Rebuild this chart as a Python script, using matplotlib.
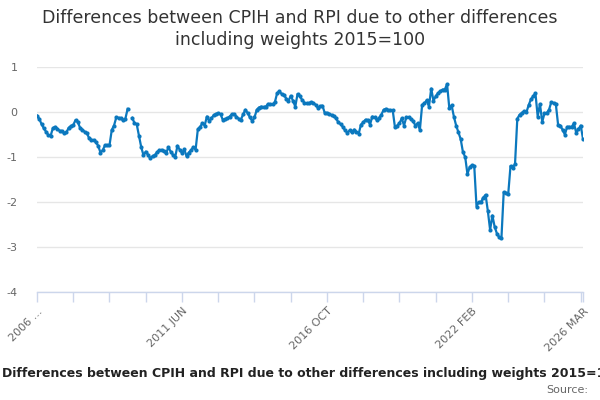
import numpy as np
import matplotlib
matplotlib.use("Agg")
import matplotlib.pyplot as plt

plt.rcParams['axes.unicode_minus'] = False
plt.rcParams['font.family'] = ['DejaVu Sans']

MONTHS = ["JAN", "FEB", "MAR", "APR", "MAY", "JUN",
          "JUL", "AUG", "SEP", "OCT", "NOV", "DEC"]
all_months = [f"{y} {m}" for y in range(2006, 2027) for m in MONTHS]
categories = all_months[all_months.index("2006 FEB"):all_months.index("2026 MAR") + 1]

nan = np.nan
values = [
    -0.08, -0.15, -0.27, -0.36, -0.44, -0.51, -0.53, -0.36, -0.33, -0.37,
    -0.42, -0.42, -0.47, -0.45, -0.35, -0.31, -0.29, -0.18, -0.22, -0.35,
    -0.39, -0.44, -0.47, -0.58, -0.62, -0.62, -0.67, -0.75, -0.90, -0.85,
    -0.74, -0.74, -0.74, -0.40, -0.30, -0.12, -0.13, -0.14, -0.18, -0.15,
    0.07, nan, -0.13, -0.24, -0.27, -0.53, -0.78, -0.96, -0.88, -0.95,
    -1.03, -0.98, -0.96, -0.89, -0.85, -0.84, -0.87, -0.92, -0.78, -0.88,
    -0.95, -1.00, -0.75, -0.84, -0.91, -0.83, -0.98, -0.90, -0.85, -0.78,
    -0.84, -0.38, -0.33, -0.25, -0.30, -0.10, -0.20, -0.14, -0.07, -0.04,
    -0.03, -0.05, -0.17, -0.16, -0.14, -0.10, -0.05, -0.05, -0.10, -0.15,
    -0.17, -0.05, 0.05, -0.03, -0.12, -0.20, -0.12, 0.05, 0.10, 0.12,
    0.11, 0.12, 0.18, 0.17, 0.17, 0.22, 0.42, 0.46, 0.40, 0.38,
    0.30, 0.25, 0.36, 0.25, 0.12, 0.40, 0.35, 0.27, 0.21, 0.19,
    0.19, 0.22, 0.20, 0.16, 0.09, 0.13, 0.14, -0.02, -0.02, -0.04,
    -0.07, -0.09, -0.14, -0.23, -0.27, -0.33, -0.41, -0.46, -0.41, -0.45,
    -0.39, -0.44, -0.48, -0.28, -0.23, -0.17, -0.18, -0.28, -0.10, -0.12,
    -0.18, -0.13, -0.06, 0.05, 0.07, 0.04, 0.04, 0.04, -0.34, -0.30,
    -0.25, -0.14, -0.30, -0.12, -0.12, -0.15, -0.20, -0.30, -0.25, -0.40,
    0.16, 0.19, 0.26, 0.12, 0.52, 0.25, 0.35, 0.42, 0.46, 0.50,
    0.50, 0.62, 0.08, 0.15, -0.10, -0.30, -0.45, -0.60, -0.89, -1.00,
    -1.38, -1.22, -1.18, -1.20, -2.10, -2.00, -2.00, -1.90, -1.84, -2.20,
    -2.62, -2.30, -2.55, -2.70, -2.78, -2.80, -1.78, -1.80, -1.82, -1.20,
    -1.25, -1.15, -0.15, -0.06, -0.02, 0.02, -0.01, 0.15, 0.28, 0.35,
    0.42, -0.10, 0.18, -0.22, -0.03, -0.02, 0.05, 0.22, 0.20, 0.18,
    -0.28, -0.30, -0.40, -0.50, -0.33, -0.33, -0.33, -0.25, -0.46, -0.38,
    -0.30, -0.60,
]

title_line1 = "Differences between CPIH and RPI due to other differences"
title_line2 = "including weights 2015=100"
footer_title = "Differences between CPIH and RPI due to other differences including weights 2015=100"
source_text = "Source:"

y_ticks = [1, 0, -1, -2, -3, -4]
tick_every = 16
labelled = {"2006 FEB": "2006 ...", "2011 JUN": "2011 JUN", "2016 OCT": "2016 OCT",
            "2022 FEB": "2022 FEB", "2026 MAR": "2026 MAR"}

fig = plt.figure(figsize=(6, 4), dpi=100)
ax = fig.add_axes([37 / 600, 1 - 292 / 400, 546 / 600, 225 / 400])

x = np.arange(len(categories))
ax.plot(x, values, color="#0b78be", linewidth=1.6, marker="o", markersize=3.0,
        markeredgewidth=0, zorder=3)

ax.set_xlim(0, len(categories) - 1)
ax.set_ylim(-4, 1)
ax.set_yticks(y_ticks)
ax.set_yticklabels([str(v) for v in y_ticks])
ax.grid(axis="y", color="#e6e6e6", linewidth=1)
ax.set_axisbelow(True)

tick_pos = list(range(0, len(categories) - 1, tick_every))
if tick_pos[-1] != len(categories) - 1:
    tick_pos.append(len(categories) - 1)
tick_lbls = [labelled.get(categories[p], "") for p in tick_pos]
ax.set_xticks(tick_pos)
ax.set_xticklabels(tick_lbls, rotation=45, ha="right", rotation_mode="anchor")

for s in ["top", "right", "left"]:
    ax.spines[s].set_visible(False)
ax.spines["bottom"].set_color("#ccd6eb")
ax.spines["bottom"].set_linewidth(1)
ax.tick_params(axis="x", colors="#ccd6eb", length=7, width=1, pad=3,
               labelcolor="#666666", labelsize=8)
ax.tick_params(axis="y", length=0, pad=14, labelcolor="#666666", labelsize=8)

fig.text(0.5, 1 - 18 / 400, title_line1, ha="center", va="center",
         fontsize=12.5, color="#333333")
fig.text(0.5, 1 - 40 / 400, title_line2, ha="center", va="center",
         fontsize=12.5, color="#333333")
fig.text(2 / 600, 1 - 373 / 400, footer_title, ha="left", va="center",
         fontsize=9, fontweight="bold", color="#222222")
fig.text(588 / 600, 1 - 390 / 400, source_text, ha="right", va="center",
         fontsize=8, color="#666666")

fig.savefig("out.png", dpi=100)
